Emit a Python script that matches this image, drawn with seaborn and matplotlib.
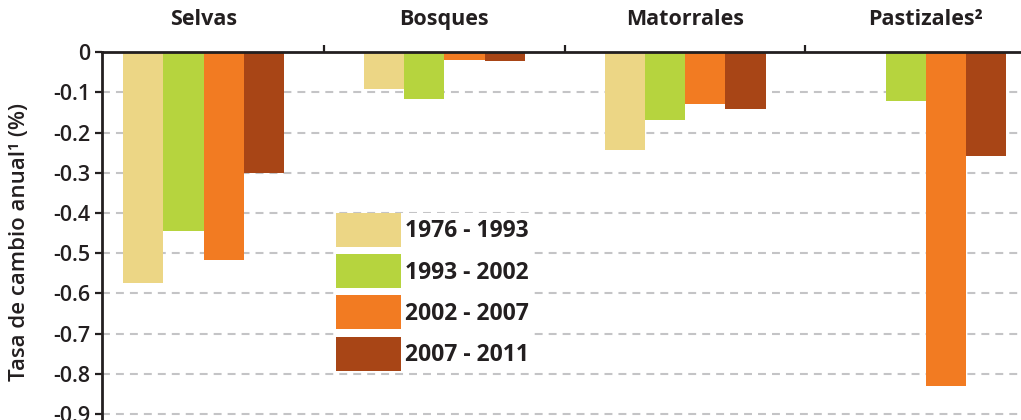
import numpy as np
import pandas as pd
import matplotlib
matplotlib.use("Agg")
import matplotlib.pyplot as plt
import seaborn as sns

# values (annual change rate, %)
categories = ["Selvas", "Bosques", "Matorrales", "Pastizales²"]
periods = ["1976 - 1993", "1993 - 2002", "2002 - 2007", "2007 - 2011"]
rate_1976_1993 = [-0.573, -0.091, -0.243, np.nan]
rate_1993_2002 = [-0.444, -0.116, -0.168, -0.120]
rate_2002_2007 = [-0.517, -0.019, -0.129, -0.829]
rate_2007_2011 = [-0.300, -0.022, -0.141, -0.257]
ytick_vals = [0, -0.1, -0.2, -0.3, -0.4, -0.5, -0.6, -0.7, -0.8, -0.9]
ytick_labels = ["0", "-0.1", "-0.2", "-0.3", "-0.4", "-0.5", "-0.6", "-0.7", "-0.8", "-0.9"]
ylabel = "Tasa de cambio anual¹ (%)"

colors = ["#ECD685", "#B6D43E", "#F27B22", "#A84516"]
dark = "#231f20"

rows = []
for period, vals in zip(periods, [rate_1976_1993, rate_1993_2002, rate_2002_2007, rate_2007_2011]):
    for cat, v in zip(categories, vals):
        rows.append({"tipo": cat, "periodo": period, "tasa": v})
df = pd.DataFrame(rows).dropna()

sns.set_style("white")
plt.rcParams["font.family"] = ["Open Sans", "DejaVu Sans"]
plt.rcParams["axes.unicode_minus"] = False

fig = plt.figure(figsize=(10.21, 4.2), dpi=100)
ax = fig.add_axes([101.7 / 1021, 0.0, 1 - 101.7 / 1021, 1 - 52.3 / 420])

sns.barplot(data=df, x="tipo", y="tasa", hue="periodo", order=categories,
            hue_order=periods, palette=colors, saturation=1, width=0.669,
            errorbar=None, ax=ax, zorder=2, linewidth=0, edgecolor="none")

ax.set_xlim(-0.4228, 3.395)
ax.set_ylim(-0.9147, 0)

# dashed horizontal grid behind bars
ax.set_axisbelow(True)
ax.yaxis.grid(True, color="#c4c4c6", linewidth=1.5, linestyle=(0, (3.8, 2.9)))
ax.xaxis.grid(False)

# spines: left + top (zero line)
for side in ["right", "bottom"]:
    ax.spines[side].set_visible(False)
for side in ["left", "top"]:
    ax.spines[side].set_visible(True)
    ax.spines[side].set_color(dark)
    ax.spines[side].set_linewidth(2.0)

ax.set_yticks(ytick_vals)
ax.set_yticklabels(ytick_labels)
ax.tick_params(axis="y", direction="out", length=5, width=1.6, color=dark,
               labelsize=15.5, labelcolor=dark, pad=3, left=True)
for t in ax.get_yticklabels():
    t.set_fontweight("semibold")

# category labels on top, separators as minor ticks
ax.xaxis.tick_top()
ax.set_xticks(range(len(categories)))
ax.set_xticklabels(categories, fontsize=15.5, fontweight="bold", color=dark)
ax.set_xticks([0.5, 1.5, 2.5], minor=True)
ax.tick_params(axis="x", which="major", length=0, pad=16, top=True, bottom=False)
ax.tick_params(axis="x", which="minor", direction="out", length=5, width=1.6,
               color=dark, top=True, bottom=False)
ax.set_xlabel("")

ax.set_ylabel(ylabel, fontsize=16, color=dark, fontweight="semibold")
ax.yaxis.set_label_coords(-0.078, 0.484)

leg = ax.legend(loc="upper left", bbox_to_anchor=(336 / 1021, 1 - 213 / 420),
                bbox_transform=fig.transFigure, frameon=True, fancybox=False,
                borderpad=0, borderaxespad=0, handlelength=2.84, handleheight=1.91,
                handletextpad=0.17, labelspacing=0.31, fontsize=16.5)
leg.get_frame().set_facecolor("white")
leg.get_frame().set_edgecolor("none")
leg.get_frame().set_alpha(1)
for t in leg.get_texts():
    t.set_fontweight("bold")
    t.set_color(dark)
for p in leg.get_patches():
    p.set_linewidth(0)

fig.savefig("out.png", dpi=100)
